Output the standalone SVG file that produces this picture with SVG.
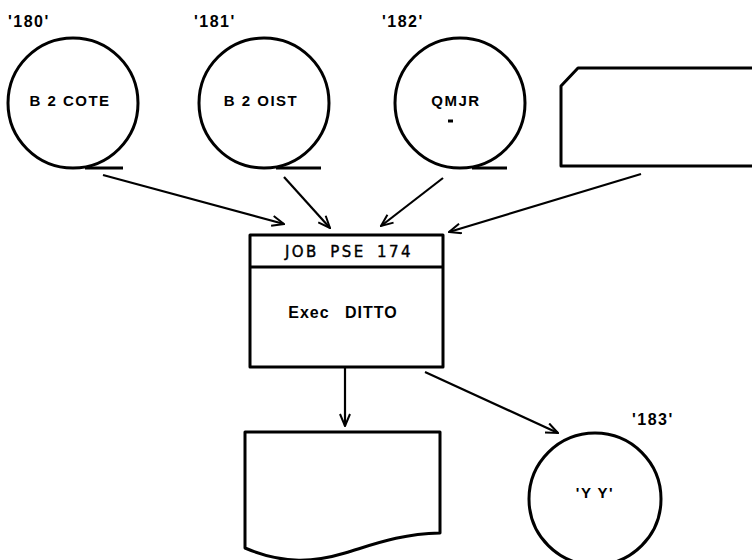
<svg xmlns="http://www.w3.org/2000/svg" width="752" height="560" viewBox="0 0 752 560">
<defs>
<style>
.sh{fill:none;stroke:#000;stroke-width:3;stroke-linejoin:round}
.ln{fill:none;stroke:#000;stroke-width:2.2}
.lbl{font-family:"Liberation Sans",Arial,sans-serif;font-weight:bold;font-size:16px;letter-spacing:1.5px;fill:#000}
.in{font-family:"Liberation Sans",Arial,sans-serif;font-weight:bold;font-size:15px;letter-spacing:1.5px;fill:#000;text-anchor:middle}
.ex{font-family:"Liberation Sans",Arial,sans-serif;font-weight:bold;font-size:16px;letter-spacing:1px;word-spacing:10px;fill:#000;text-anchor:middle}
.job{font-family:"DejaVu Sans",sans-serif;font-size:15px;letter-spacing:2.5px;word-spacing:4px;fill:#000;text-anchor:middle;stroke:#000;stroke-width:0.4}
</style>
<marker id="ah" viewBox="0 0 14 12" refX="13" refY="6" markerWidth="14" markerHeight="12" markerUnits="userSpaceOnUse" orient="auto">
<path d="M1,1 L13,6 L1,11" fill="none" stroke="#000" stroke-width="2"/>
</marker>
</defs>
<rect width="752" height="560" fill="#fff"/>
<g id="tape180">
<circle cx="73" cy="103" r="65" class="sh"/>
<line x1="85" y1="168" x2="123" y2="168" class="sh"/>
<text x="8" y="27" class="lbl">'180'</text>
<text x="70" y="106" class="in">B 2 COTE</text>
</g>
<g id="tape181">
<circle cx="264" cy="103" r="65" class="sh"/>
<line x1="276" y1="168" x2="321" y2="168" class="sh"/>
<text x="194" y="27" class="lbl">'181'</text>
<text x="261" y="106" class="in">B 2 OIST</text>
</g>
<g id="tape182">
<circle cx="460" cy="103" r="65" class="sh"/>
<line x1="472" y1="168" x2="507" y2="168" class="sh"/>
<text x="382" y="27" class="lbl">'182'</text>
<text x="456" y="106" class="in">QMJR</text>
<line x1="448" y1="121" x2="453" y2="121" stroke="#000" stroke-width="3"/>
</g>
<g id="card">
<path d="M770,68 H578 L561,86 V166 H770" class="sh"/>
</g>
<g id="job">
<rect x="250" y="235" width="193" height="132" class="sh"/>
<line x1="250" y1="267" x2="443" y2="267" class="sh"/>
<text x="349" y="257" class="job">JOB PSE 174</text>
<text x="343" y="318" class="ex">Exec DITTO</text>
</g>
<g id="document">
<path d="M245,432 H440 V533 C400,534 375,544 345,553 C315,562 285,565 245,548 Z" class="sh"/>
</g>
<g id="tape183">
<circle cx="595" cy="499" r="66" class="sh"/>
<text x="632" y="425" class="lbl">'183'</text>
<text x="595" y="498" class="in">'Y Y'</text>
</g>
<g id="connectors">
<line x1="103" y1="175" x2="284" y2="224" class="ln" marker-end="url(#ah)"/>
<line x1="284" y1="177" x2="330" y2="228" class="ln" marker-end="url(#ah)"/>
<line x1="443" y1="178" x2="381" y2="226" class="ln" marker-end="url(#ah)"/>
<line x1="641" y1="174" x2="449" y2="232" class="ln" marker-end="url(#ah)"/>
<line x1="345" y1="367" x2="345" y2="426" class="ln" marker-end="url(#ah)"/>
<line x1="425" y1="372" x2="558" y2="433" class="ln" marker-end="url(#ah)"/>
</g>
</svg>
